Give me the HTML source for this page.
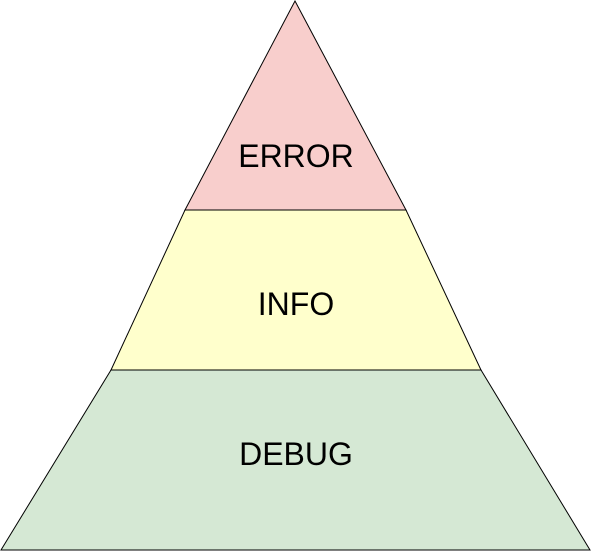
<!DOCTYPE html>
<html><head><meta charset="utf-8"><style>
html,body{margin:0;padding:0;background:#fff;}
</style></head><body>
<svg width="591" height="551" viewBox="0 0 591 551" xmlns="http://www.w3.org/2000/svg" style="display:block">
<polygon points="295,1 406,210 185,210" fill="#f8cecc" stroke="#000" stroke-width="1"/>
<polygon points="185,210 406,210 481,370 111,370" fill="#ffffcc" stroke="#000" stroke-width="1"/>
<polygon points="111,370 481,370 590,550 1,550" fill="#d5e8d4" stroke="#000" stroke-width="1"/>
<g font-family="Liberation Sans, Arial, sans-serif" font-size="32" text-anchor="middle" fill="#000">
<text x="296" y="167">ERROR</text>
<text x="296" y="315">INFO</text>
<text x="296" y="465">DEBUG</text>
</g>
</svg>
</body></html>
